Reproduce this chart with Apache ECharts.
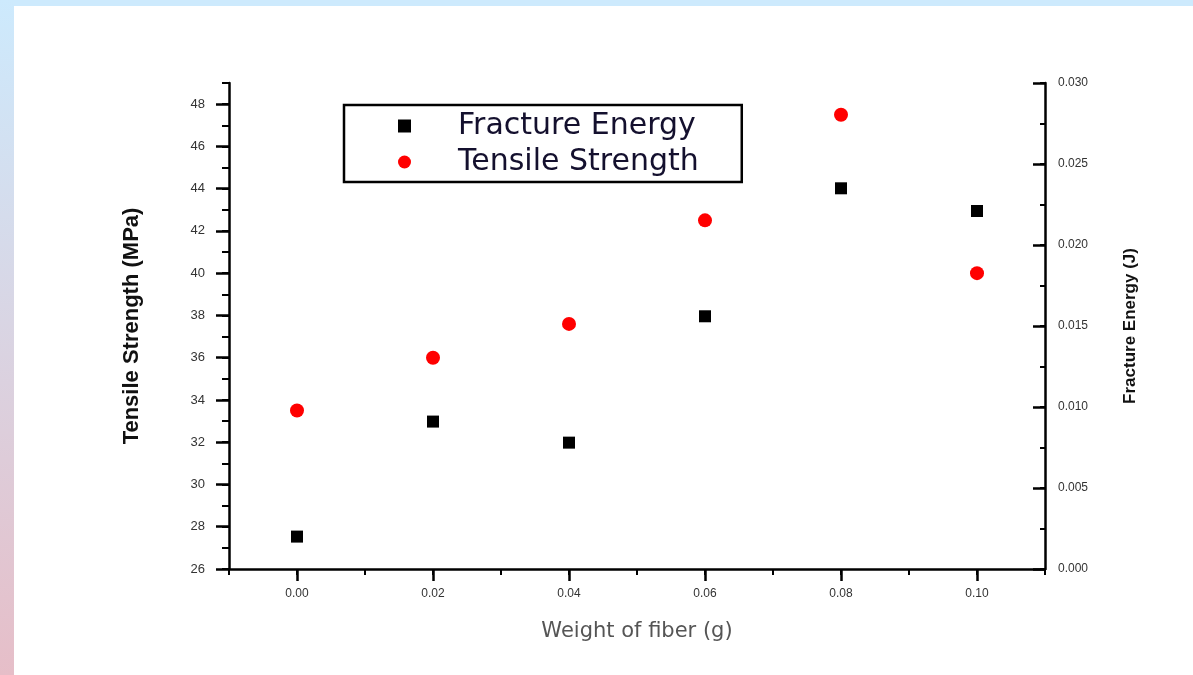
<!DOCTYPE html>
<html>
  <head>
    <title>tensile_fracture.html</title>
    <meta http-equiv="content-type" content="text/html; charset=UTF-8">
    <script src="https://cdn.jsdelivr.net/npm/echarts@6/dist/echarts.min.js"></script>
    <style type="text/css">
      html, body { margin:0; padding:0; background:#fff; }
      #main { width:1193px; height:675px; }
    </style>
  </head>
  <body>
    <div id="main"></div>
<script type="text/javascript">
    // data
    var weight = [0.00, 0.02, 0.04, 0.06, 0.08, 0.10];
    var tensile = [33.5, 36.0, 37.6, 42.5, 47.5, 40.0];
    var fracture = [0.0020, 0.0091, 0.0078, 0.0156, 0.0235, 0.0221];
    var xTicks = [0.00, 0.02, 0.04, 0.06, 0.08, 0.10];
    var leftTicks = [26, 28, 30, 32, 34, 36, 38, 40, 42, 44, 46, 48];
    var rightTicks = [0, 0.005, 0.010, 0.015, 0.020, 0.025, 0.030];

    function pairs(xs, ys){
        var out = [];
        for (var i = 0; i < xs.length; i++) out.push([xs[i], ys[i]]);
        return out;
    }

    var black = '#000';
    var myChart = echarts.init(document.getElementById('main'));
    var option = {
        backgroundColor: '#fff',
        animation: false,
        graphic: [
            { type:'rect', left:0, top:0, z:-10, shape:{ width:1193, height:6 }, style:{ fill:'#cdeafd' } },
            { type:'rect', left:0, top:0, z:-10, shape:{ width:14, height:675 },
              style:{ fill: new echarts.graphic.LinearGradient(0, 0, 0, 1, [
                  { offset:0, color:'#cdeafd' }, { offset:1, color:'#e6bec8' } ]) } }
        ],
        grid: { left:229, right:148, top:83, bottom:106, outerBoundsMode:'none' },
        legend: {
            orient: 'vertical',
            left: 344, top: 105,
            padding: [6, 43, 5, 54],
            itemGap: 6,
            itemWidth: 13, itemHeight: 13,
            borderColor: black, borderWidth: 2.5, borderRadius: 0,
            backgroundColor: '#fff',
            formatter: function(name){ return '{gap|}' + name; },
            textStyle: {
                fontFamily: 'DejaVu Sans', fontSize: 30, color: '#14102e', lineHeight: 30,
                rich: { gap: { width: 42, lineHeight: 30 } }
            },
            data: ['Fracture Energy', 'Tensile Strength']
        },
        xAxis: [
            { type:'value', position:'bottom', min:-0.01, max:0.11, interval:0.01,
              axisLine:{ show:true, onZero:false, lineStyle:{ color:black, width:2.5 } },
              axisTick:{ show:true, length:6, lineStyle:{ color:black, width:2 } },
              axisLabel:{ show:false }, splitLine:{ show:false } },
            { type:'value', position:'bottom', min:-0.01, max:0.11,
              axisLine:{ show:false, onZero:false },
              axisTick:{ show:true, customValues:xTicks, length:12, lineStyle:{ color:black, width:2.5 } },
              axisLabel:{ customValues:xTicks, margin:19, fontSize:12, color:'#333',
                          fontFamily:'Liberation Sans',
                          formatter:function(v){ return v.toFixed(2); } },
              splitLine:{ show:false },
              name:'Weight of fiber (g)', nameLocation:'middle', nameGap:52,
              nameTextStyle:{ fontFamily:'DejaVu Sans', fontSize:21, color:'#555' } }
        ],
        yAxis: [
            { type:'value', position:'left', min:26, max:49, interval:1,
              axisLine:{ show:true, onZero:false, lineStyle:{ color:black, width:2.5 } },
              axisTick:{ show:true, length:7, lineStyle:{ color:black, width:2 } },
              axisLabel:{ show:false }, splitLine:{ show:false } },
            { type:'value', position:'left', min:26, max:49,
              axisLine:{ show:false, onZero:false },
              axisTick:{ show:true, customValues:leftTicks, length:13, lineStyle:{ color:black, width:2.5 } },
              axisLabel:{ customValues:leftTicks, margin:24, fontSize:13, color:'#333',
                          fontFamily:'Liberation Sans' },
              splitLine:{ show:false },
              name:'Tensile Strength (MPa)', nameLocation:'middle', nameGap:86, nameRotate:90,
              nameTextStyle:{ fontFamily:'Liberation Sans', fontSize:22, fontWeight:'bold', color:'#111' } },
            { type:'value', position:'right', min:0, max:0.03, interval:0.0025,
              axisLine:{ show:true, onZero:false, lineStyle:{ color:black, width:2.5 } },
              axisTick:{ show:true, inside:true, length:5, lineStyle:{ color:black, width:2 } },
              axisLabel:{ show:false }, splitLine:{ show:false } },
            { type:'value', position:'right', min:0, max:0.03,
              axisLine:{ show:false, onZero:false },
              axisTick:{ show:true, inside:true, customValues:rightTicks, length:12, lineStyle:{ color:black, width:2.5 } },
              axisLabel:{ customValues:rightTicks, margin:13, fontSize:12, color:'#333',
                          fontFamily:'Liberation Sans',
                          formatter:function(v){ return v.toFixed(3); } },
              splitLine:{ show:false },
              name:'Fracture Energy (J)', nameLocation:'middle', nameGap:77, nameRotate:90,
              nameTextStyle:{ fontFamily:'Liberation Sans', fontSize:17, fontWeight:'bold', color:'#111' } }
        ],
        series: [
            { name:'Fracture Energy', type:'scatter', xAxisIndex:0, yAxisIndex:3,
              symbol:'rect', symbolSize:12, itemStyle:{ color:black, opacity:1 },
              data: pairs(weight, fracture) },
            { name:'Tensile Strength', type:'scatter', xAxisIndex:0, yAxisIndex:1,
              symbol:'circle', symbolSize:14, itemStyle:{ color:'#ff0000', opacity:1 },
              data: pairs(weight, tensile) }
        ]
    };
    myChart.setOption(option);
</script>
</body>
</html>
